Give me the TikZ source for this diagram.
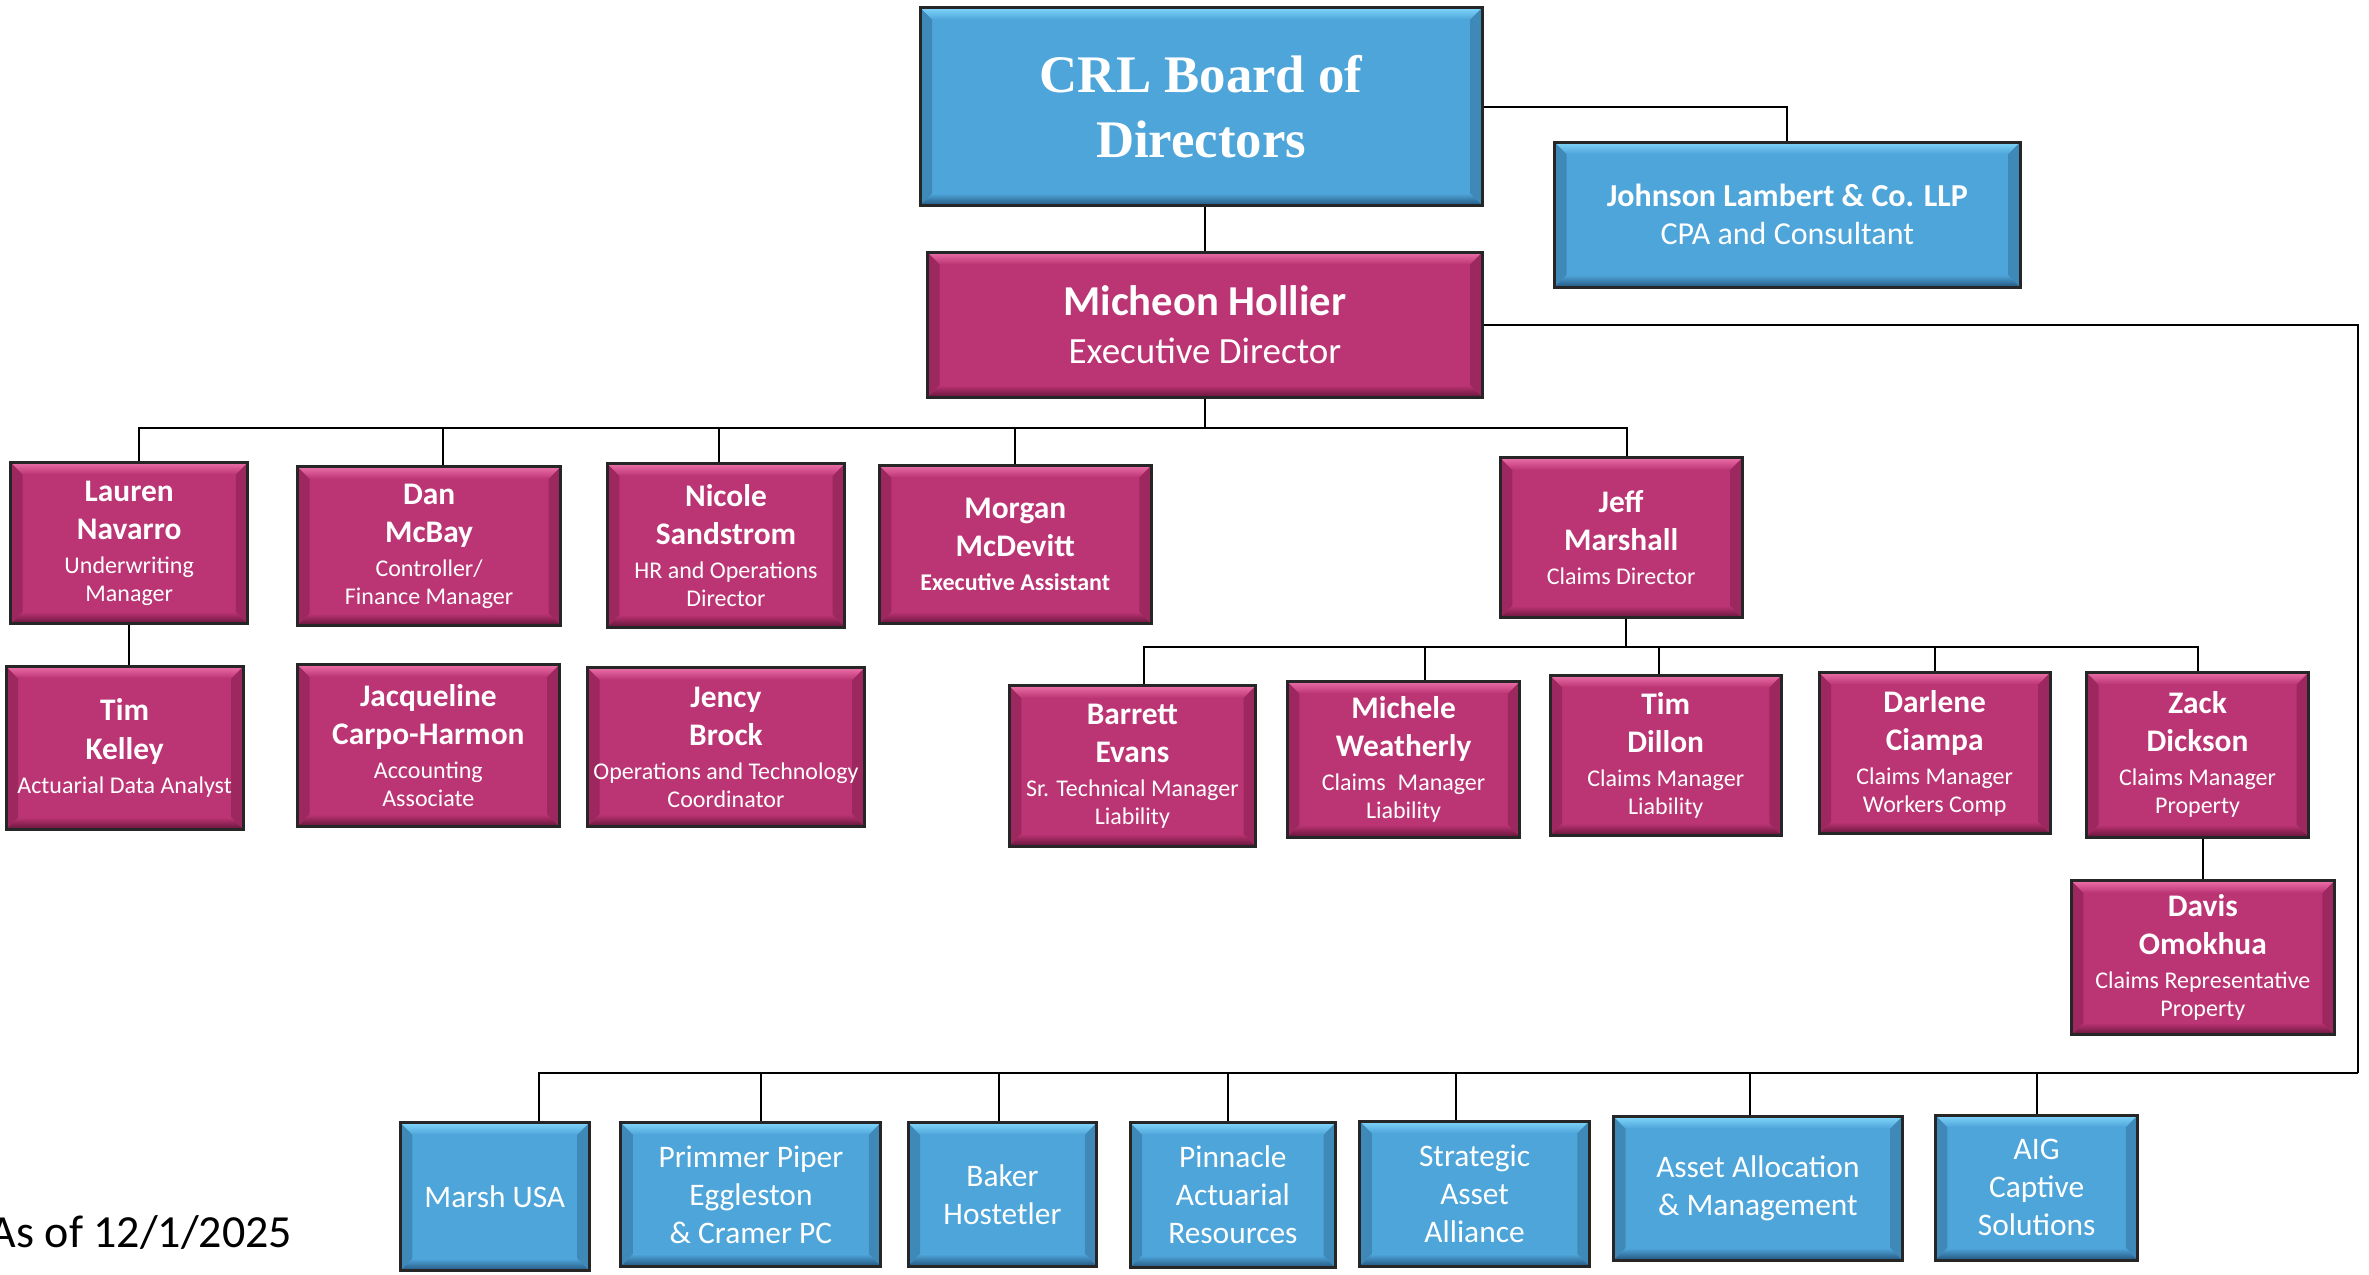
\documentclass[tikz,border=0pt]{standalone}
\usepackage{fontspec}
\setmainfont{Carlito}
\newfontfamily\boardfont{Liberation Serif}
\usetikzlibrary{calc}
\definecolor{mag}{RGB}{187,52,115}
\definecolor{magL}{RGB}{236,112,170}
\definecolor{magD}{RGB}{100,20,58}
\definecolor{blu}{RGB}{78,165,218}
\definecolor{bluL}{RGB}{128,214,250}
\definecolor{bluD}{RGB}{36,86,126}
\newcommand\pname{\fontsize{15.7}{14}\selectfont\bfseries}
\newcommand\ptitle{\fontsize{12}{14}\selectfont}
\newcommand\vname{\fontsize{15.7}{19}\selectfont}
\newcommand\bfont{\boardfont\bfseries\fontsize{26.4}{32.5}\selectfont}
\newcommand\obox[7]{\node[#2, minimum width={(#5-#3)*0.7554pt}, minimum height={(#6-#4)*0.7554pt}] (#1) at ({(#3+#5)/2},{(#4+#6)/2}) {#7};}
\tikzset{
  bev/.style n args={3}{path picture={
    \path (path picture bounding box.north west) coordinate (pnw)
          (path picture bounding box.north east) coordinate (pne)
          (path picture bounding box.south west) coordinate (psw)
          (path picture bounding box.south east) coordinate (pse);
    \fill[#3, opacity=0.35] (pnw) -- ([xshift=6pt,yshift=-6pt]pnw) -- ([xshift=6pt,yshift=6pt]psw) -- (psw) -- cycle;
    \fill[#3, opacity=0.35] (pne) -- ([xshift=-6pt,yshift=-6pt]pne) -- ([xshift=-6pt,yshift=6pt]pse) -- (pse) -- cycle;
    \shade[top color=#2, bottom color=#1] (pnw) -- (pne) -- ([xshift=-6pt,yshift=-6pt]pne) -- ([xshift=6pt,yshift=-6pt]pnw) -- cycle;
    \shade[top color=#1, bottom color=#3] (psw) -- (pse) -- ([xshift=-6pt,yshift=6pt]pse) -- ([xshift=6pt,yshift=6pt]psw) -- cycle;
  }},
  box/.style={draw=black!85, line width=1.5pt, inner sep=1pt, text=white, align=center},
  mbox/.style={box, fill=mag, bev={mag}{magL}{magD}, font=\ptitle},
  bbox/.style={box, fill=blu, bev={blu}{bluL}{bluD}, font=\vname},
  conn/.style={draw=black, line width=1pt},
}
\begin{document}
\begin{tikzpicture}[x=0.7554pt, y=-0.7554pt]
\useasboundingbox (0,0) rectangle (1568,843.3);
% top
\obox{board}{bbox, font=\bfont}{609}{5}{981}{136}{\bfont CRL Board of\\\bfont Directors}
\obox{jl}{bbox, font=\fontsize{16}{19}\selectfont}{1029}{94}{1337}{190}{\bfseries Johnson Lambert \& Co. LLP\\CPA and Consultant}
\obox{mh}{mbox, font=\fontsize{18.5}{24}\selectfont}{614}{167}{981}{263}{\fontsize{21.3}{24}\selectfont\bfseries Micheon Hollier\\Executive Director}
% level 2
\obox{lauren}{mbox}{7}{306}{164}{413}{\pname Lauren\\[5pt]\pname Navarro\\[3pt]Underwriting\\Manager}
\obox{dan}{mbox}{197}{309}{371}{414}{\pname Dan\\[5pt]\pname McBay\\[3pt]Controller/\\Finance Manager}
\obox{nicole}{mbox}{402}{307}{559}{415}{\pname Nicole\\[5pt]\pname Sandstrom\\[3pt]HR and Operations\\Director}
\obox{morgan}{mbox}{582}{308}{762}{413}{\pname Morgan\\[5pt]\pname McDevitt\\[3pt]\bfseries Executive Assistant}
\obox{jeff}{mbox}{993}{303}{1153}{409}{\pname Jeff\\[5pt]\pname Marshall\\[3pt]Claims Director}
% level 3
\obox{tk}{mbox}{4}{441}{161}{549}{\pname Tim\\[5.5pt]\pname Kelley\\[3pt]Actuarial Data Analyst}
\obox{jac}{mbox}{197}{440}{370}{547}{\pname Jacqueline\\[5pt]\pname Carpo-Harmon\\[3pt]Accounting\\Associate}
\obox{jency}{mbox}{389}{442}{572}{547}{\pname Jency\\[5pt]\pname Brock\\[3pt]Operations and Technology\\Coordinator}
\obox{barrett}{mbox}{668}{454}{831}{560}{\pname Barrett\\[5pt]\pname Evans\\[3pt]Sr. Technical Manager\\Liability}
\obox{michele}{mbox}{852}{451}{1006}{554}{\pname Michele\\[5pt]\pname Weatherly\\[3pt]Claims\enspace Manager\\Liability}
\obox{timd}{mbox}{1026}{447}{1179}{553}{\pname Tim\\[5pt]\pname Dillon\\[3pt]Claims Manager\\Liability}
\obox{darlene}{mbox}{1204}{445}{1357}{552}{\pname Darlene\\[5pt]\pname Ciampa\\[3pt]Claims Manager\\Workers Comp}
\obox{zack}{mbox}{1381}{445}{1528}{554}{\pname Zack\\[5pt]\pname Dickson\\[3pt]Claims Manager\\Property}
\obox{davis}{mbox}{1371}{583}{1545}{685}{\pname Davis\\[5pt]\pname Omokhua\\[3pt]Claims Representative\\Property}
% bottom
\obox{marsh}{bbox}{265}{743}{390}{841}{Marsh USA}
\obox{primmer}{bbox}{411}{743}{583}{838}{Primmer Piper\\Eggleston\\\& Cramer PC}
\obox{baker}{bbox}{601}{743}{726}{838}{Baker\\Hostetler}
\obox{pinnacle}{bbox}{748}{743}{884}{839}{Pinnacle\\Actuarial\\Resources}
\obox{strategic}{bbox}{900}{742}{1052}{838}{Strategic\\Asset\\Alliance}
\obox{asset}{bbox}{1068}{739}{1259}{834}{Asset Allocation\\\& Management}
\obox{aig}{bbox}{1281}{738}{1415}{834}{AIG\\Captive\\Solutions}
\node[anchor=base west, inner sep=0pt, font=\fontsize{23}{28}\selectfont] (asof) at (-7,826) {As of 12/1/2025};
% connectors
\coordinate (b1) at (800,283);
\coordinate (b2) at (1076,428);
\coordinate (b3) at (1561,710);
\draw[conn] (mh.north) -- (mh.north |- board.south);
\draw[conn] (board.east) -| (jl.north);
\draw[conn] (mh.south) -- (mh.south |- b1);
\draw[conn] ($(lauren.north)+(6.5,0)$) |- (b1);
\draw[conn] ($(dan.north)+(9,0)$) |- (b1);
\draw[conn] ($(nicole.north)+(-4.5,0)$) |- (b1);
\draw[conn] (morgan.north) |- (b1);
\draw[conn] ($(jeff.north)+(4,0)$) |- (b1);
\draw[conn] (lauren.south) -- (lauren.south |- tk.north);
\draw[conn] ($(dan.south)+(7,0)$) -- ($(dan.south)+(7,0)$ |- jac.north);
\draw[conn] ($(nicole.south)+(-2.5,0)$) -- ($(nicole.south)+(-2.5,0)$ |- jency.north);
\draw[conn] (jeff.south -| b2) -- (b2);
\draw[conn] ($(barrett.north)+(7.5,0)$) |- (b2);
\draw[conn] ($(michele.north)+(14,0)$) |- (b2);
\draw[conn] ($(timd.north)+(-4.5,0)$) |- (b2);
\draw[conn] (darlene.north) |- (b2);
\draw[conn] (zack.north) |- (b2);
\draw[conn] (davis.north) -- (davis.north |- zack.south);
\draw[conn] (mh.east) -| (b3);
\draw[conn] ($(marsh.north)+(29.5,0)$) |- (b3);
\draw[conn] ($(primmer.north)+(7,0)$) |- (b3);
\draw[conn] ($(baker.north)+(-2,0)$) |- (b3);
\draw[conn] ($(pinnacle.north)+(-3,0)$) |- (b3);
\draw[conn] ($(strategic.north)+(-12,0)$) |- (b3);
\draw[conn] ($(asset.north)+(-5,0)$) |- (b3);
\draw[conn] (aig.north) |- (b3);
\end{tikzpicture}
\end{document}
